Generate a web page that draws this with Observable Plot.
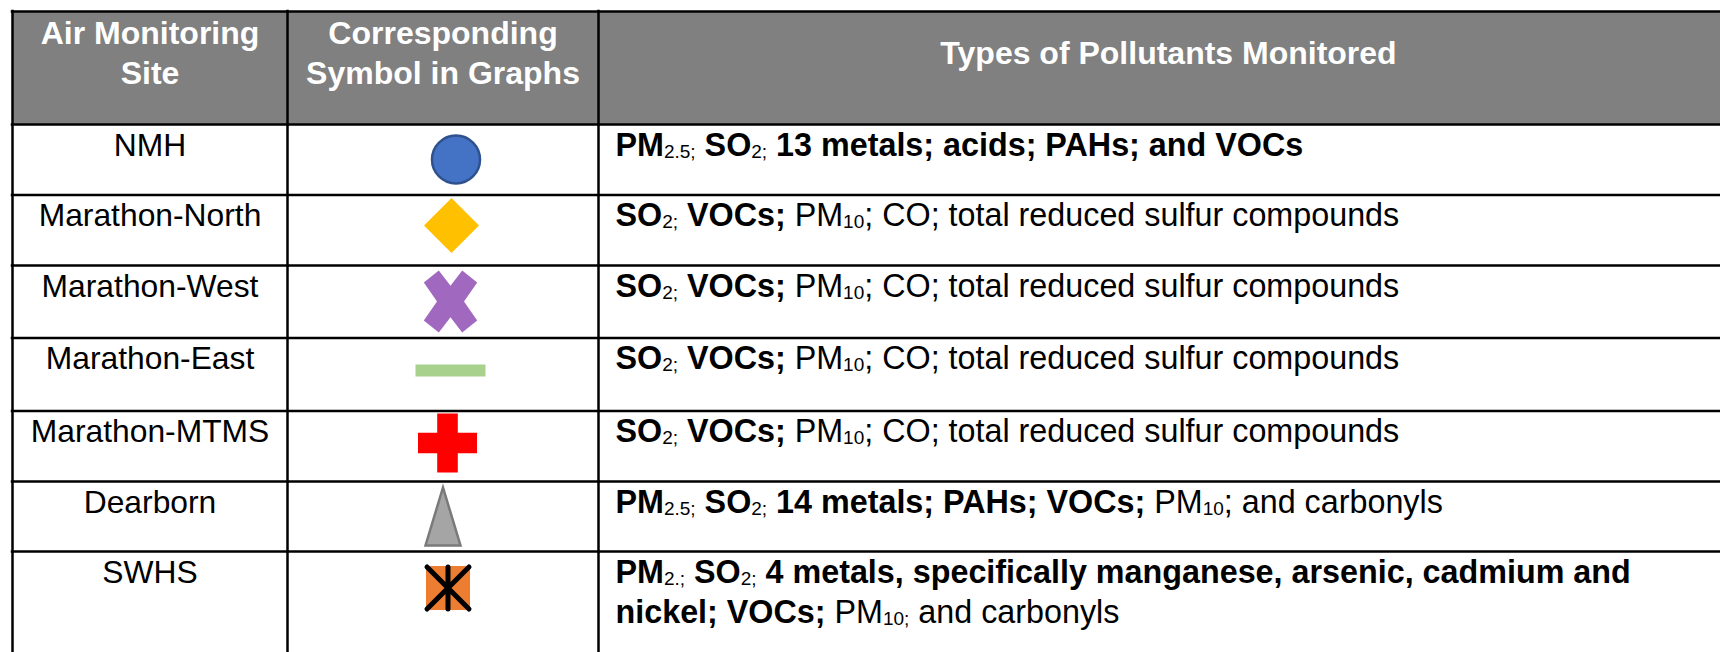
<!DOCTYPE html>
<html><head><meta charset="utf-8">
<script src="https://cdn.jsdelivr.net/npm/d3@7"></script>
<script src="https://cdn.jsdelivr.net/npm/@observablehq/plot@0.6"></script>
<style>html,body{margin:0;padding:0;background:#fff;overflow:hidden}</style>
</head><body><div id="chart"></div>
<script>
// ---------------- data ----------------
const headerSite = ["Air Monitoring", "Site"];
const headerSymbol = ["Corresponding", "Symbol in Graphs"];
const headerPollutants = ["Types of Pollutants Monitored"];
const sites = ["NMH", "Marathon-North", "Marathon-West", "Marathon-East", "Marathon-MTMS", "Dearborn", "SWHS"];
const symbols = ["circle", "diamond", "times", "dash", "plus", "triangle", "boxedStar"];
// pollutant text: each site -> lines -> runs [text, style]; b = bold, r = regular, s = subscript
const pollutantsNMH = [[["PM","b"],["2.5;","s"],[" SO","b"],["2;","s"],[" 13 metals; acids; PAHs; and VOCs","b"]]];
const pollutantsMarathon = [[["SO","b"],["2;","s"],[" VOCs;","b"],[" PM","r"],["10","s"],["; CO; total reduced sulfur compounds","r"]]];
const pollutantsDearborn = [[["PM","b"],["2.5;","s"],[" SO","b"],["2;","s"],[" 14 metals; PAHs; VOCs;","b"],[" PM","r"],["10","s"],["; and carbonyls","r"]]];
const pollutantsSWHS = [
  [["PM","b"],["2.;","s"],[" SO","b"],["2;","s"],[" 4 metals, specifically manganese, arsenic, cadmium and","b"]],
  [["nickel; VOCs;","b"],[" PM","r"],["10;","s"],[" and carbonyls","r"]]
];
const pollutants = [pollutantsNMH, pollutantsMarathon, pollutantsMarathon, pollutantsMarathon, pollutantsMarathon, pollutantsDearborn, pollutantsSWHS];

// ---------------- layout ----------------
const W = 1720, H = 652;
const colEdges = [12, 287, 598];
const tableRight = 1738; // table continues slightly past the window
const rowEdges = [11, 124, 194.5, 265, 337.5, 410.5, 481, 551];
const headerBaselines = [43, 83];
const FAMILY = '"Liberation Sans", Arial, Helvetica, sans-serif';
const FS_HEAD = 32, FS_SITE = 31.8, FS = 32.3, SUBFS = 19, LINE = 40.6, BASE = 31, TEXT_X = 615;

const ctx = document.createElement("canvas").getContext("2d");
function measure(t, bold, size) { ctx.font = `${bold ? "bold " : ""}${size}px ${FAMILY}`; return ctx.measureText(t).width; }

const pieces = [];
pollutants.forEach((lines, i) => {
  lines.forEach((runs, j) => {
    let x = TEXT_X;
    const y = rowEdges[i + 1] + BASE + j * LINE;
    runs.forEach(([t, s]) => {
      pieces.push({text: t, style: s, x, y});
      x += measure(t, s === "b", s === "s" ? SUBFS : FS);
    });
  });
});

const siteRows = sites.map((name, i) => ({name, symbol: symbols[i], top: rowEdges[i + 1]}));
const headerText = [
  ...headerSite.map((t, k) => ({text: t, x: (colEdges[0] + colEdges[1]) / 2, y: headerBaselines[k]})),
  ...headerSymbol.map((t, k) => ({text: t, x: (colEdges[1] + colEdges[2]) / 2, y: headerBaselines[k]})),
  ...headerPollutants.map(t => ({text: t, x: (colEdges[2] + tableRight) / 2, y: (headerBaselines[0] + headerBaselines[1]) / 2}))
];

// ---------------- symbols ----------------
const poly = pts => ({draw(c) { c.moveTo(pts[0][0], pts[0][1]); for (const p of pts.slice(1)) c.lineTo(p[0], p[1]); c.closePath(); }});
const symbolDefs = {
  circle: {shape: {draw(c) { c.moveTo(24, 0); c.arc(0, 0, 24, 0, 2 * Math.PI); }}, fill: "#4472C4", stroke: "#2F528F", strokeWidth: 2.5, dx: 13, dy: 35},
  diamond: {shape: poly([[0,-27.5],[27.5,0],[0,27.5],[-27.5,0]]), fill: "#FFC000", dx: 8.5, dy: 30.5},
  times: {shape: poly([[-11.7,-31],[0,-15.7],[11.7,-31],[26.7,-19],[13.5,0],[26.7,19],[11.7,31],[0,15.7],[-11.7,31],[-26.7,19],[-13.5,0],[-26.7,-19]]), fill: "#A069BF", dx: 7.5, dy: 36},
  dash: {shape: poly([[-35,-6],[35,-6],[35,6],[-35,6]]), fill: "#A9D18E", dx: 7.5, dy: 32.5},
  plus: {shape: poly([[-10.3,-29.5],[10.3,-29.5],[10.3,-10.3],[29.5,-10.3],[29.5,10.3],[10.3,10.3],[10.3,29.5],[-10.3,29.5],[-10.3,10.3],[-29.5,10.3],[-29.5,-10.3],[-10.3,-10.3]]), fill: "#FF0000", dx: 4.5, dy: 32},
  triangle: {shape: poly([[0,-27],[17.5,31],[-17.5,31]]), fill: "#A5A5A5", stroke: "#7A7A7A", strokeWidth: 2.5, dx: 0, dy: 33},
  boxedStar: {shape: poly([[-22,-22],[22,-22],[22,22],[-22,22]]), fill: "#ED7D31", dx: 5, dy: 36.5,
    overlay: {draw(c) { c.moveTo(-21,-21); c.lineTo(21,21); c.moveTo(21,-21); c.lineTo(-21,21); c.moveTo(0,-21); c.lineTo(0,21); }}}
};
const symX = (colEdges[1] + colEdges[2]) / 2;
const symbolMarks = siteRows.flatMap(row => {
  const d = symbolDefs[row.symbol];
  const opts = {x: () => symX + d.dx, y: r => r.top + d.dy, symbol: d.shape, r: 10, fill: d.fill,
    stroke: d.stroke || "none", strokeWidth: d.strokeWidth || 0};
  const m = [Plot.dot([row], opts)];
  if (d.overlay) m.push(Plot.dot([row], {x: () => symX + d.dx, y: r => r.top + d.dy, symbol: d.overlay, r: 10,
    fill: "none", stroke: "black", strokeWidth: 5, strokeLinecap: "round"}));
  return m;
});

// ---------------- plot ----------------
const textBase = {fontFamily: FAMILY, lineAnchor: "bottom"};
const chart = Plot.plot({
  width: W, height: H, margin: 0,
  x: {domain: [0, W], range: [0, W], axis: null},
  y: {domain: [0, H], range: [0, H], axis: null},
  style: {background: "white", fontFamily: FAMILY},
  marks: [
    Plot.rect([0], {x1: colEdges[0], x2: tableRight, y1: rowEdges[0], y2: rowEdges[1], fill: "#808080"}),
    ...symbolMarks,
    Plot.text(headerText, {...textBase, x: "x", y: "y", text: "text", fill: "white", fontWeight: "bold", fontSize: FS_HEAD, textAnchor: "middle"}),
    Plot.text(siteRows, {...textBase, x: (colEdges[0] + colEdges[1]) / 2, y: r => r.top + BASE, text: "name", fill: "black", fontSize: FS_SITE, textAnchor: "middle"}),
    Plot.text(pieces.filter(p => p.style === "b"), {...textBase, x: "x", y: "y", text: "text", fill: "black", fontWeight: "bold", fontSize: FS, textAnchor: "start"}),
    Plot.text(pieces.filter(p => p.style === "r"), {...textBase, x: "x", y: "y", text: "text", fill: "black", fontSize: FS, textAnchor: "start"}),
    Plot.text(pieces.filter(p => p.style === "s"), {...textBase, x: "x", y: "y", text: "text", fill: "black", fontSize: SUBFS, textAnchor: "start", dy: 2}),
    Plot.ruleY(rowEdges, {x1: colEdges[0] - 1.25, x2: tableRight, stroke: "black", strokeWidth: 2.5}),
    Plot.ruleX(colEdges, {y1: rowEdges[0] - 1.25, y2: H + 5, stroke: "black", strokeWidth: 2.5})
  ]
});
document.getElementById("chart").appendChild(chart);
</script>
</body></html>
